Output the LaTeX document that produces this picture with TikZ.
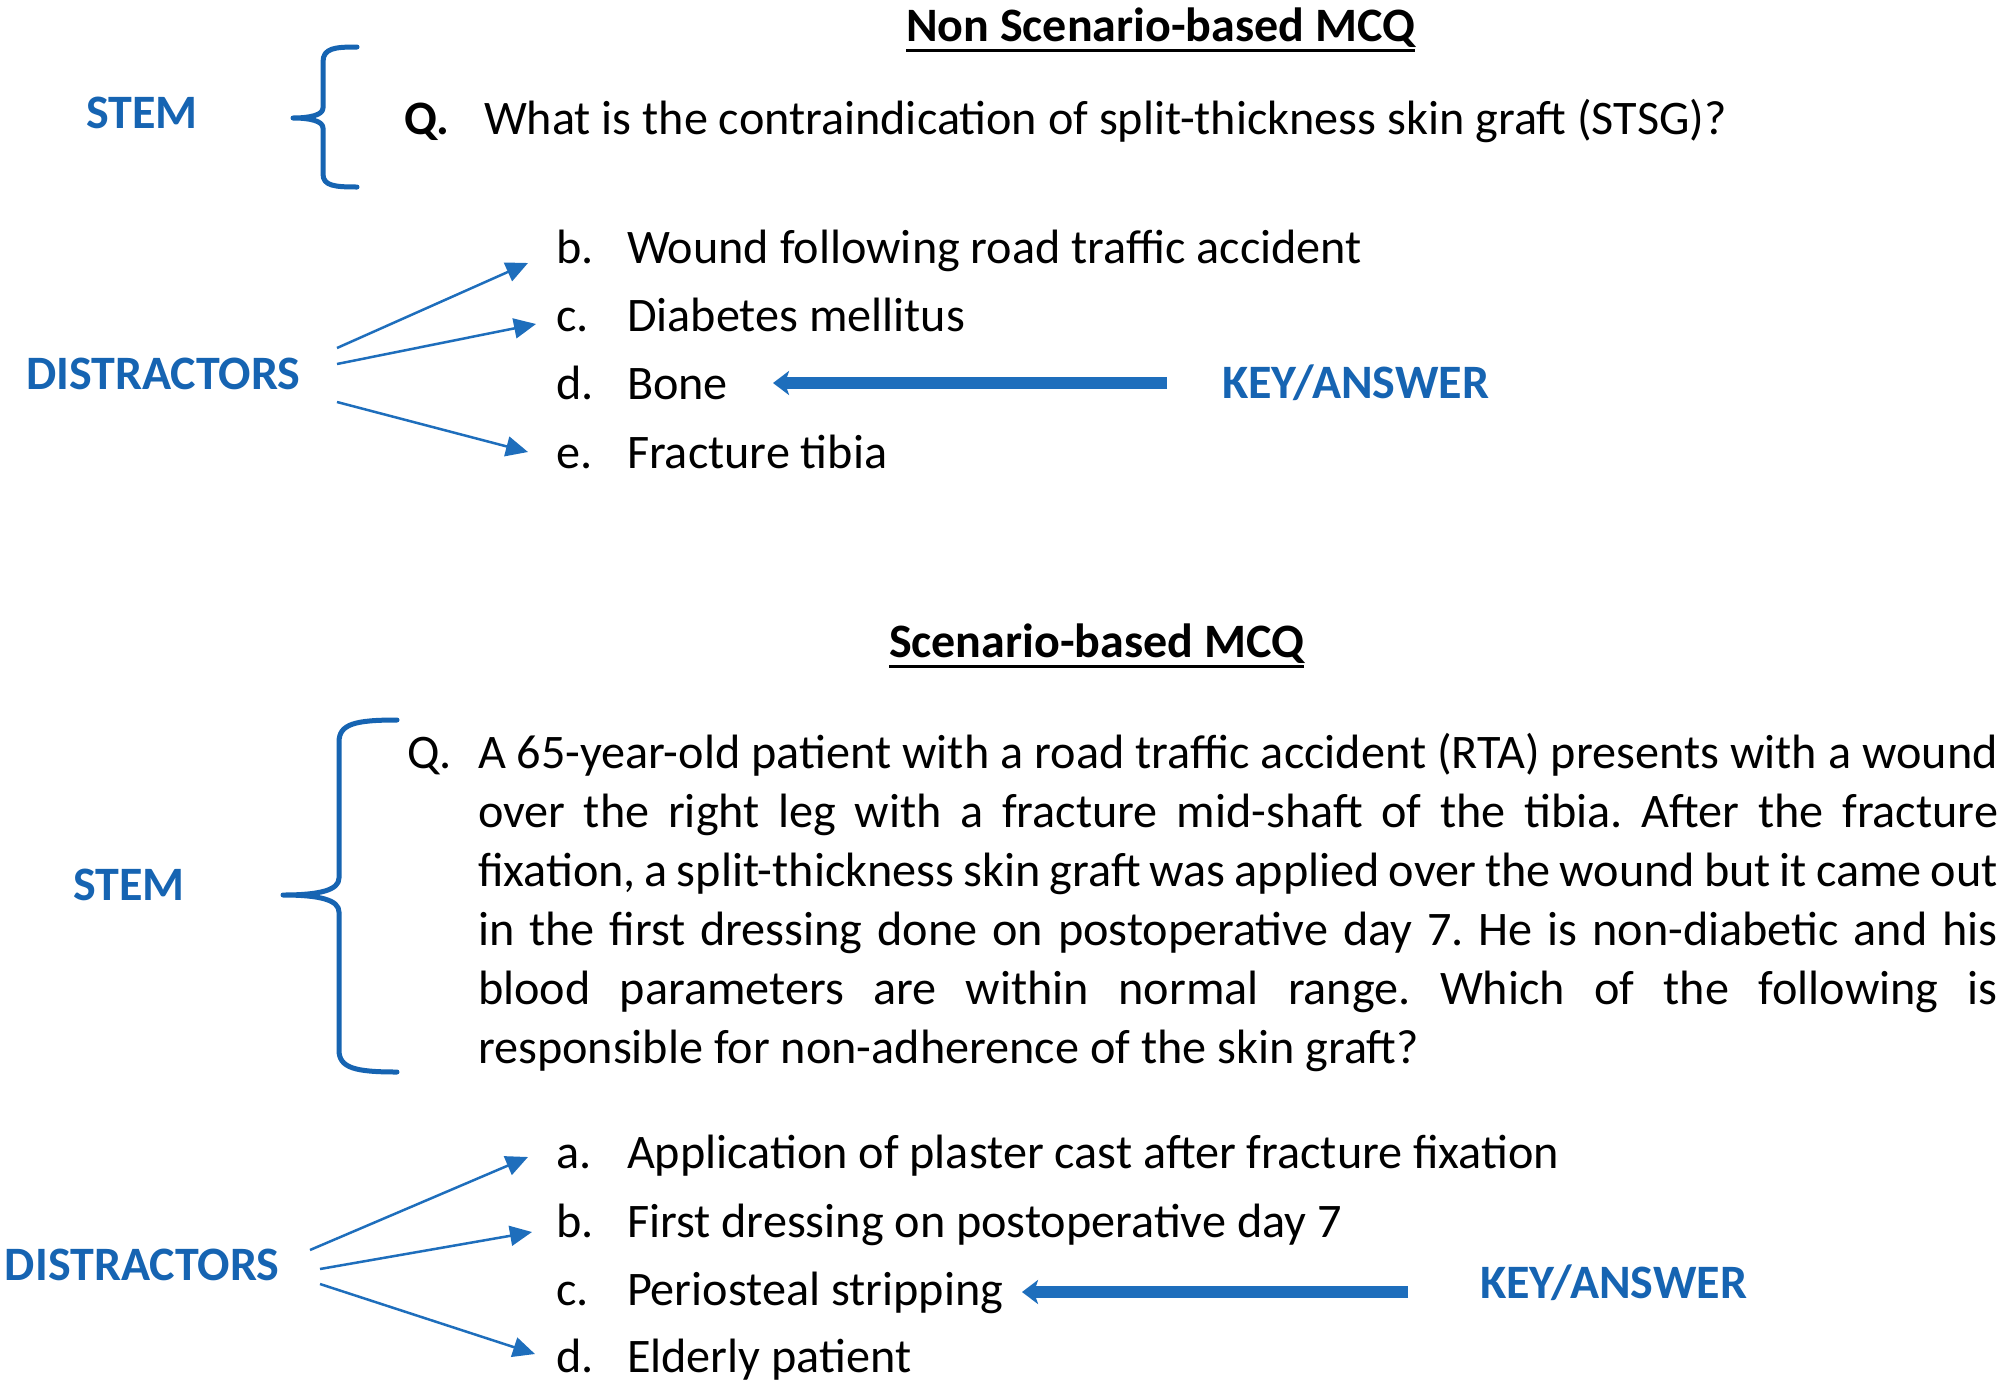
\documentclass[tikz,border=0pt]{standalone}
\usepackage{fontspec}
\setmainfont{Carlito}
\frenchspacing
\usetikzlibrary{arrows.meta,calc}
\definecolor{lblue}{RGB}{22,100,178}
\definecolor{ablue}{RGB}{30,110,188}
\begin{document}
\begin{tikzpicture}[x=1pt,y=-1pt,
  every node/.style={inner sep=0pt,outer sep=0pt},
  body/.style={font=\fontsize{48.2}{59}\selectfont\frenchspacing,anchor=base west},
  lab/.style={font=\fontsize{48}{59}\selectfont\bfseries,text=lblue,anchor=base west},
  ttl/.style={font=\fontsize{48}{59}\selectfont\bfseries,anchor=base west},
  brace/.style={draw=lblue,line width=5pt,line cap=round,line join=round},
  thinarrow/.style={draw=ablue,line width=2.5pt,-{Triangle[length=22pt,width=20pt]}},
  bigarrow/.style={draw=ablue,line width=12pt,-{Stealth[length=16pt,width=24pt,inset=4pt]}}]
\useasboundingbox[fill=white] (0,0) rectangle (2006,1390);

% ---------- Non scenario-based ----------
\node[ttl] (t1) at (906,41) {Non Scenario-based MCQ};
\draw[line width=3pt] ($(t1.base west)+(0,9)$) -- ($(t1.base east)+(0,9)$);

\node[lab] (stem1) at (86,128) {STEM};
\draw[brace] (357,47) .. controls (335,47) and (323,48) .. (323,62) -- (323,108)
  .. controls (323,115) and (310,118) .. (293,118)
  .. controls (310,118) and (323,121) .. (323,128) -- (323,174)
  .. controls (323,186) and (335,187) .. (357,187);

\node[ttl] (q1) at (404,134) {Q.};
\node[body] (q1t) at (484,134) {What is the contraindication of split-thickness skin graft (STSG)?};

\node[body] (lb1) at (556,263) {b.};
\node[body] (ob1) at (627,263) {Wound following road traffic accident};
\node[body] (lc1) at (556,331) {c.};
\node[body] (oc1) at (627,331) {Diabetes mellitus};
\node[body] (ld1) at (556,399) {d.};
\node[body] (od1) at (627,399) {Bone};
\node[body] (le1) at (556,468) {e.};
\node[body] (oe1) at (627,468) {Fracture tibia};

\node[lab] (dis1) at (26,389) {DISTRACTORS};
\node[lab] (key1) at (1222,398) {KEY/ANSWER};

\coordinate (s1a) at (337,348); \coordinate (e1a) at (528,263);
\coordinate (s1b) at (337,364); \coordinate (e1b) at (536,324);
\coordinate (s1c) at (337,402); \coordinate (e1c) at (528,452);
\draw[thinarrow] (s1a) -- (e1a);
\draw[thinarrow] (s1b) -- (e1b);
\draw[thinarrow] (s1c) -- (e1c);
\coordinate (k1s) at (1167,383); \coordinate (k1e) at (773,383);
\draw[bigarrow] (k1s) -- (k1e);

% ---------- Scenario-based ----------
\node[ttl] (t2) at (889,657) {Scenario-based MCQ};
\draw[line width=3pt] ($(t2.base west)+(0,9)$) -- ($(t2.base east)+(0,9)$);

\node[lab] (stem2) at (73,900) {STEM};
\draw[brace] (397,720) .. controls (355,720) and (339,724) .. (339,742) -- (339,878)
  .. controls (339,890) and (320,895) .. (283,895)
  .. controls (320,895) and (339,900) .. (339,912) -- (339,1050)
  .. controls (339,1068) and (355,1072) .. (397,1072);

\node[body] (q2) at (407,768) {Q.};
\node[body] (p1) at (478,768) {\makebox[1520pt][s]{A 65-year-old patient with a road traffic accident (RTA) presents with a wound}};
\node[body] (p2) at (478,827) {\makebox[1520pt][s]{over the right leg with a fracture mid-shaft of the tibia. After the fracture}};
\node[body] (p3) at (478,886) {\makebox[1520pt][s]{fixation, a split-thickness skin graft was applied over the wound but it came out}};
\node[body] (p4) at (478,945) {\makebox[1520pt][s]{in the first dressing done on postoperative day 7. He is non-diabetic and his}};
\node[body] (p5) at (478,1004) {\makebox[1520pt][s]{blood parameters are within normal range. Which of the following is}};
\node[body] (p6) at (478,1063) {responsible for non-adherence of the skin graft?};

\node[body] (la2) at (556,1168) {a.};
\node[body] (oa2) at (627,1168) {Application of plaster cast after fracture fixation};
\node[body] (lb2) at (556,1237) {b.};
\node[body] (ob2) at (627,1237) {First dressing on postoperative day 7};
\node[body] (lc2) at (556,1305) {c.};
\node[body] (oc2) at (627,1305) {Periosteal stripping};
\node[body] (ld2) at (556,1372) {d.};
\node[body] (od2) at (627,1372) {Elderly patient};

\node[lab] (dis2) at (5,1280) {DISTRACTORS};
\node[lab] (key2) at (1480,1298) {KEY/ANSWER};

\coordinate (s2a) at (310,1250); \coordinate (e2a) at (528,1157);
\coordinate (s2b) at (320,1269); \coordinate (e2b) at (532,1232);
\coordinate (s2c) at (320,1284); \coordinate (e2c) at (535,1354);
\draw[thinarrow] (s2a) -- (e2a);
\draw[thinarrow] (s2b) -- (e2b);
\draw[thinarrow] (s2c) -- (e2c);
\coordinate (k2s) at (1408,1292); \coordinate (k2e) at (1022,1292);
\draw[bigarrow] (k2s) -- (k2e);
\end{tikzpicture}
\end{document}
